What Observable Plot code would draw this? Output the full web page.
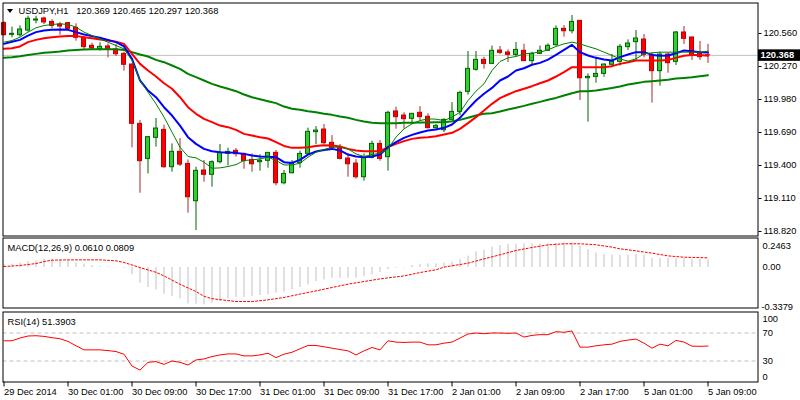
<!DOCTYPE html>
<html>
<head>
<meta charset="utf-8">
<script src="https://cdn.jsdelivr.net/npm/d3@7"></script>
<script src="https://cdn.jsdelivr.net/npm/@observablehq/plot@0.6"></script>
<style>
  html, body { margin: 0; padding: 0; background: #fff; }
  #wrap { position: relative; width: 800px; height: 400px; overflow: hidden; background: #fff; }
  #wrap > div { position: absolute; left: 0; }
  #tri { width: 0; height: 0; border-left: 3.5px solid transparent; border-right: 3.5px solid transparent; border-top: 4.5px solid #000; left: 7px !important; top: 9px; }
</style>
</head>
<body>
<div id="wrap">
  <div id="main" style="top:0px"></div>
  <div id="macd" style="top:236px"></div>
  <div id="rsi" style="top:309px"></div>
  <div id="tri"></div>
</div>
<script>
// ---------- DATA (USDJPY H1, 89 bars) ----------
const open = [120.651,120.548,120.545,120.586,120.674,120.692,120.662,120.639,120.651,120.610,
120.522,120.452,120.422,120.446,120.419,120.381,120.287,119.766,119.458,119.643,
119.713,119.385,119.520,119.414,119.086,119.356,119.318,119.429,119.502,119.529,
119.502,119.449,119.429,119.441,119.511,119.244,119.332,119.423,119.502,119.693,
119.716,119.599,119.552,119.461,119.417,119.297,119.467,119.590,119.473,119.875,
119.839,119.810,119.863,119.828,119.728,119.710,119.801,119.871,120.047,120.241,
120.328,120.293,120.410,120.393,120.372,120.408,120.317,120.381,120.408,120.457,
120.601,120.580,120.671,120.167,120.179,120.205,120.285,120.311,120.440,120.484,
120.507,120.372,120.229,120.375,120.311,120.569,120.525,120.390,120.369];
const high = [120.662,120.616,120.627,120.712,120.712,120.704,120.680,120.657,120.657,120.645,
120.534,120.475,120.478,120.469,120.463,120.396,120.293,119.795,119.655,119.813,
119.754,119.590,119.637,119.449,119.385,119.444,119.441,119.584,119.552,119.549,
119.508,119.502,119.494,119.514,119.532,119.356,119.444,119.526,119.728,119.742,
119.760,119.663,119.584,119.502,119.452,119.502,119.614,119.620,119.877,119.913,
119.863,119.857,119.918,119.854,119.760,119.810,119.953,120.053,120.402,120.402,
120.352,120.450,120.446,120.416,120.481,120.466,120.396,120.450,120.469,120.627,
120.630,120.718,120.674,120.205,120.352,120.293,120.375,120.463,120.504,120.586,
120.551,120.390,120.396,120.387,120.578,120.621,120.528,120.490,120.465];
const low = [120.539,120.522,120.528,120.572,120.645,120.639,120.601,120.545,120.592,120.493,
120.419,120.416,120.405,120.346,120.358,120.229,119.555,119.156,119.326,119.561,
119.376,119.341,119.391,118.981,118.828,119.253,119.209,119.414,119.397,119.473,
119.367,119.341,119.350,119.376,119.221,119.230,119.326,119.376,119.496,119.584,
119.584,119.546,119.449,119.297,119.280,119.262,119.458,119.438,119.350,119.719,
119.719,119.760,119.795,119.722,119.716,119.690,119.795,119.836,120.018,120.229,
120.246,120.290,120.375,120.305,120.358,120.314,120.279,120.375,120.402,120.449,
120.528,120.557,119.971,119.781,120.123,120.176,120.264,120.273,120.410,120.323,
120.346,119.948,120.097,120.211,120.279,120.463,120.323,120.323,120.297];
const close = [120.545,120.557,120.595,120.689,120.683,120.657,120.627,120.621,120.601,120.522,
120.440,120.428,120.443,120.416,120.378,120.285,119.766,119.438,119.649,119.725,
119.385,119.520,119.408,119.121,119.353,119.318,119.429,119.511,119.520,119.499,
119.438,119.411,119.441,119.511,119.244,119.326,119.423,119.502,119.696,119.707,
119.596,119.552,119.458,119.411,119.297,119.473,119.590,119.458,119.863,119.825,
119.807,119.854,119.825,119.728,119.748,119.801,119.871,120.038,120.249,120.328,
120.293,120.408,120.390,120.372,120.416,120.317,120.381,120.408,120.452,120.601,
120.580,120.662,120.167,120.179,120.205,120.287,120.311,120.443,120.472,120.516,
120.372,120.229,120.375,120.299,120.569,120.513,120.372,120.352,120.368];

// moving averages
const maBlue = [120.469,120.487,120.504,120.542,120.572,120.586,120.592,120.595,120.592,120.572,
120.551,120.537,120.522,120.504,120.484,120.446,120.337,120.147,120.059,120.000,
119.912,119.839,119.751,119.649,119.590,119.546,119.526,119.517,119.514,119.511,
119.502,119.487,119.479,119.476,119.473,119.429,119.423,119.449,119.496,119.523,
119.537,119.546,119.532,119.496,119.479,119.473,119.479,119.496,119.561,119.605,
119.643,119.669,119.690,119.707,119.716,119.731,119.760,119.819,119.898,119.971,
120.030,120.082,120.147,120.182,120.235,120.255,120.285,120.302,120.331,120.372,
120.416,120.460,120.396,120.367,120.346,120.331,120.323,120.352,120.375,120.396,
120.396,120.372,120.364,120.367,120.387,120.410,120.405,120.396,120.393];
const maRed = [120.425,120.431,120.446,120.484,120.504,120.519,120.528,120.534,120.539,120.539,
120.528,120.519,120.507,120.498,120.487,120.469,120.381,120.293,120.235,120.182,
120.123,120.074,120.000,119.912,119.854,119.810,119.781,119.751,119.737,119.713,
119.678,119.663,119.649,119.637,119.605,119.572,119.555,119.555,119.561,119.572,
119.578,119.575,119.567,119.546,119.532,119.526,119.526,119.526,119.561,119.590,
119.614,119.634,119.643,119.649,119.657,119.672,119.687,119.722,119.772,119.825,
119.883,119.942,119.992,120.024,120.053,120.074,120.097,120.123,120.147,120.182,
120.220,120.264,120.264,120.264,120.264,120.264,120.273,120.293,120.308,120.323,
120.323,120.323,120.323,120.328,120.346,120.364,120.372,120.372,120.364];
const maGreen = [120.346,120.352,120.361,120.372,120.381,120.390,120.396,120.402,120.410,120.416,
120.419,120.422,120.422,120.422,120.422,120.416,120.396,120.375,120.358,120.328,
120.308,120.279,120.249,120.205,120.176,120.147,120.117,120.094,120.074,120.053,
120.024,120.000,119.983,119.965,119.948,119.918,119.898,119.889,119.877,119.868,
119.854,119.845,119.830,119.819,119.801,119.786,119.775,119.772,119.772,119.772,
119.775,119.775,119.778,119.778,119.781,119.781,119.789,119.801,119.819,119.839,
119.854,119.860,119.874,119.892,119.907,119.924,119.942,119.959,119.977,119.994,
120.015,120.035,120.053,120.053,120.059,120.071,120.082,120.094,120.112,120.123,
120.135,120.141,120.147,120.153,120.164,120.170,120.176,120.185,120.194];
const maThin = [120.484,120.498,120.528,120.572,120.610,120.630,120.639,120.645,120.639,120.616,
120.572,120.542,120.513,120.484,120.454,120.425,120.323,120.147,120.044,119.942,
119.825,119.693,119.561,119.479,119.467,119.429,119.376,119.379,119.391,119.408,
119.444,119.449,119.458,119.473,119.444,119.405,119.405,119.420,119.473,119.517,
119.540,119.561,119.561,119.546,119.502,119.479,119.496,119.508,119.546,119.649,
119.722,119.766,119.795,119.810,119.807,119.795,119.825,119.868,119.971,120.053,
120.118,120.235,120.314,120.346,120.358,120.381,120.387,120.396,120.416,120.446,
120.469,120.484,120.469,120.446,120.425,120.396,120.367,120.337,120.317,120.337,
120.381,120.390,120.396,120.396,120.396,120.396,120.396,120.396,120.405];

// MACD(12,26,9)
const macd = [0.028,0.028,0.036,0.050,0.056,0.072,0.072,0.064,0.056,0.036,
0.028,0.017,0.008,0.006,0.001,-0.006,-0.061,-0.131,-0.167,-0.186,
-0.223,-0.242,-0.262,-0.303,-0.306,-0.312,-0.298,-0.284,-0.262,-0.250,
-0.250,-0.242,-0.234,-0.228,-0.214,-0.206,-0.186,-0.167,-0.145,-0.117,
-0.103,-0.089,-0.089,-0.089,-0.089,-0.075,-0.061,-0.042,-0.019,-0.006,
-0.003,0.017,0.025,0.031,0.031,0.036,0.045,0.067,0.095,0.131,
0.145,0.170,0.184,0.192,0.192,0.198,0.198,0.198,0.198,0.203,
0.206,0.206,0.178,0.150,0.122,0.109,0.103,0.103,0.103,0.109,
0.103,0.075,0.075,0.075,0.075,0.075,0.067,0.067,0.061];
const signalIdx = [0,2,4,5,6,8,10,12,14,15,17,19,20,22,24,25,26,29,31,33,35,37,39,41,43,45,47,50,52,54,55,58,60,62,64,66,68,70,72,74,76,77,79,81,83,85,88];
const signalVal = [0.008,0.017,0.033,0.050,0.061,0.064,0.064,0.064,0.056,0.042,0.000,-0.040,-0.070,-0.140,-0.200,-0.240,-0.260,-0.284,-0.284,-0.270,-0.250,-0.222,-0.195,-0.167,-0.139,-0.117,-0.095,-0.070,-0.042,-0.019,0.003,0.036,0.072,0.106,0.142,0.167,0.189,0.198,0.198,0.190,0.170,0.156,0.139,0.120,0.097,0.086,0.081];
const macdMax = 0.2463, macdMin = -0.3379;

// RSI(14)
const rsi = [58.9,58.9,62.8,65.7,66.1,65.2,63.3,61.8,58.0,51.8,
45.9,45.9,45.9,44.9,43.5,39.7,22.8,17.0,28.1,29.1,
25.2,30.0,28.1,24.3,31.5,32.9,36.3,38.7,40.1,40.1,
37.3,37.3,38.7,41.1,34.8,39.7,42.5,47.4,52.2,52.2,
50.3,48.3,46.4,44.5,38.7,44.5,49.3,45.9,58.9,57.0,
56.5,57.0,57.0,53.1,53.1,55.5,57.0,62.8,68.5,70.0,
69.0,70.0,70.0,69.5,70.0,64.2,66.6,67.6,67.6,71.9,
71.0,72.9,49.8,49.8,51.7,53.1,54.1,58.0,59.9,61.3,
55.5,48.3,54.1,51.7,59.4,57.0,51.2,51.0,51.4];
const rsiLevels = [30, 70];
const rsiLabels = [100, 70, 30, 0];

// axes
const priceTicks = [120.560, 120.270, 119.980, 119.690, 119.400, 119.110, 118.820];
const timeTickIdx = [0, 8, 16, 24, 32, 40, 48, 56, 64, 72, 80, 88];
const timeTickLabels = ["29 Dec 2014","30 Dec 01:00","30 Dec 09:00","30 Dec 17:00","31 Dec 01:00","31 Dec 09:00","31 Dec 17:00","2 Jan 01:00","2 Jan 09:00","2 Jan 17:00","5 Jan 01:00","5 Jan 09:00"];
const symbol = "USDJPY,H1";
const macdTitle = "MACD(12,26,9) 0.0610 0.0809";
const rsiTitle = "RSI(14) 51.3903";

// ---------- RENDER ----------
const fontFamily = '"Liberation Sans", Arial, sans-serif';
const fs = 9.3;
const style = {fontFamily, fontSize: fs + "px", background: "transparent", color: "#000", overflow: "visible"};
const xDomain = [-0.125, 94.25];
const idx = d3.range(close.length);
const n = close.length;
const lastClose = close[n - 1];
const candles = idx.map(i => ({i, o: open[i], h: high[i], l: low[i], c: close[i], up: close[i] >= open[i]}));
const half = 0.25;
const series = arr => arr.map((v, i) => ({i, v}));
const title = `${symbol}\u00a0\u00a0\u00a0${open[n-1].toFixed(3)} ${high[n-1].toFixed(3)} ${low[n-1].toFixed(3)} ${close[n-1].toFixed(3)}`;

const main = Plot.plot({
  width: 800, height: 237,
  marginLeft: 2.5, marginRight: 42.5, marginTop: 2.5, marginBottom: 1.5,
  x: {domain: xDomain, axis: null},
  y: {domain: [118.7805, 120.828]},
  style,
  marks: [
    Plot.ruleY([lastClose], {stroke: "#c0c0c0"}),
    Plot.ruleX(candles, {x: "i", y1: "l", y2: "h", stroke: d => d.up ? "#006400" : "#a52a2a", strokeWidth: 1}),
    Plot.rect(candles, {x1: d => d.i - half, x2: d => d.i + half, y1: "o", y2: "c",
      fill: d => d.up ? "#32cd32" : "#ff0000", stroke: d => d.up ? "#006400" : "#c00000", strokeWidth: 1}),
    Plot.line(series(maGreen), {x: "i", y: "v", stroke: "#008000", strokeWidth: 2}),
    Plot.line(series(maRed), {x: "i", y: "v", stroke: "#ff0000", strokeWidth: 2}),
    Plot.line(series(maBlue), {x: "i", y: "v", stroke: "#0000ff", strokeWidth: 2}),
    Plot.line(series(maThin), {x: "i", y: "v", stroke: "#008000", strokeWidth: 1}),
    Plot.frame({stroke: "#000", strokeWidth: 1}),
    Plot.axisY({ticks: priceTicks, anchor: "right", tickSize: 3, tickPadding: 2.5, tickFormat: d => d.toFixed(3), label: null}),
    Plot.text([title], {frameAnchor: "top-left", dx: 15.5, dy: 4.8, lineAnchor: "top", textAnchor: "start", text: d => d, fontSize: fs})
  ]
});
document.getElementById("main").appendChild(main);
{
  const yC = main.scale("y").apply(lastClose);
  const svg = d3.select(main);
  svg.append("rect").attr("x", 758).attr("y", yC - 5.5).attr("width", 42).attr("height", 11.5).attr("fill", "#000");
  svg.append("text").attr("x", 760.5).attr("y", yC).attr("dy", "0.34em").attr("fill", "#fff")
    .attr("text-anchor", "start")
    .attr("font-size", fs).attr("font-weight", "bold").attr("font-family", fontFamily).text(lastClose.toFixed(3));
}

const macdPlot = Plot.plot({
  width: 800, height: 73,
  marginLeft: 2.5, marginRight: 42.5, marginTop: 1.5, marginBottom: 1.5,
  x: {domain: xDomain, axis: null},
  y: {domain: [macdMin, macdMax], axis: null},
  style,
  marks: [
    Plot.ruleX(idx, {x: i => i, y1: 0, y2: i => macd[i], stroke: "#c0c0c0", strokeWidth: 1}),
    Plot.line(signalIdx, {x: d => d, y: (d, k) => signalVal[k], stroke: "#ff0000", strokeWidth: 1, strokeDasharray: "2,2"}),
    Plot.frame({stroke: "#000", strokeWidth: 1}),
    Plot.text([macdTitle], {frameAnchor: "top-left", dx: 4.5, dy: 6.3, lineAnchor: "top", textAnchor: "start", text: d => d, fontSize: fs}),
    Plot.text([macdMax], {y: d => d, frameAnchor: "right", dx: 4.5, dy: 4.2, lineAnchor: "top", textAnchor: "start", text: d => d.toFixed(4), fontSize: fs}),
    Plot.text([0], {y: d => d, frameAnchor: "right", dx: 4.5, textAnchor: "start", text: d => d.toFixed(2), fontSize: fs}),
    Plot.text([macdMin], {y: d => d, frameAnchor: "right", dx: 3.5, dy: 1.5, lineAnchor: "bottom", textAnchor: "start", text: d => d.toFixed(4), fontSize: fs})
  ]
});
document.getElementById("macd").appendChild(macdPlot);

const rsiPlot = Plot.plot({
  width: 800, height: 91,
  marginLeft: 2.5, marginRight: 42.5, marginTop: 2.5, marginBottom: 18.5,
  x: {domain: xDomain},
  y: {domain: [0, 100], axis: null},
  style,
  marks: [
    Plot.ruleY(rsiLevels, {stroke: "#c0c0c0", strokeDasharray: "4,3"}),
    Plot.line(idx, {x: i => i, y: i => rsi[i], stroke: "#ff0000", strokeWidth: 1}),
    Plot.frame({stroke: "#000", strokeWidth: 1}),
    Plot.text([rsiTitle], {frameAnchor: "top-left", dx: 4.5, dy: 6, lineAnchor: "top", textAnchor: "start", text: d => d, fontSize: fs}),
    Plot.text(rsiLabels.filter(v => v === 100), {y: d => d, frameAnchor: "right", dx: 4.5, dy: 3.2, lineAnchor: "top", textAnchor: "start", text: d => String(d), fontSize: fs}),
    Plot.text(rsiLabels.filter(v => v === 70 || v === 30), {y: d => d, frameAnchor: "right", dx: 4.5, textAnchor: "start", text: d => String(d), fontSize: fs}),
    Plot.text(rsiLabels.filter(v => v === 0), {y: d => d, frameAnchor: "right", dx: 4.5, dy: -2, lineAnchor: "bottom", textAnchor: "start", text: d => String(d), fontSize: fs}),
    Plot.axisX({ticks: timeTickIdx, anchor: "bottom", tickSize: 5, tickPadding: 1.5, textAnchor: "start",
      tickFormat: d => timeTickLabels[timeTickIdx.indexOf(d)], label: null, fontSize: fs})
  ]
});
document.getElementById("rsi").appendChild(rsiPlot);
</script>
</body>
</html>
